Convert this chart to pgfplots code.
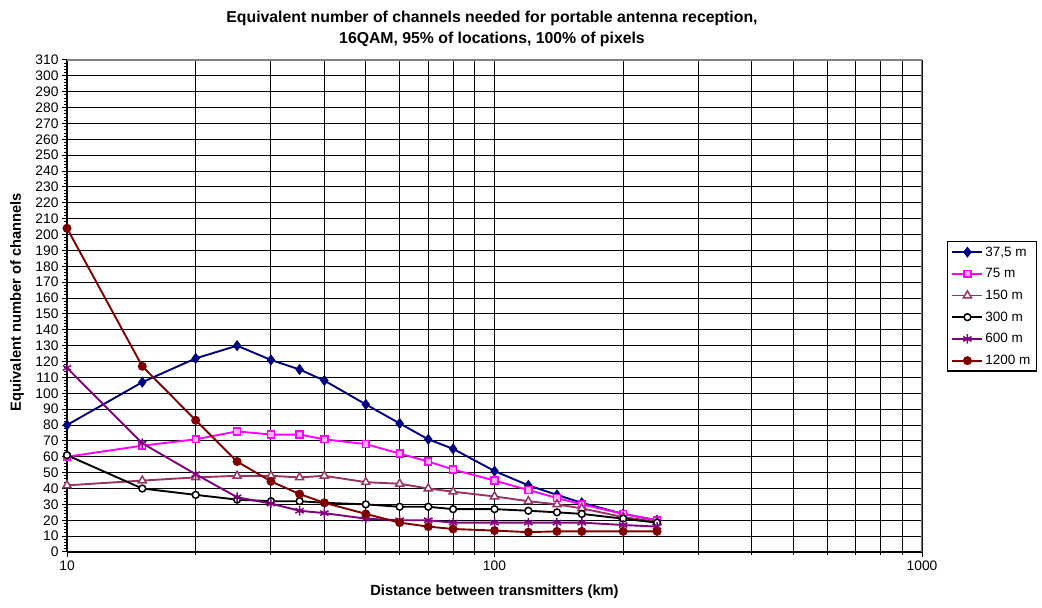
\documentclass[border=0pt]{standalone}
\usepackage{fontspec}
\setmainfont{Liberation Sans}
\usepackage{pgfplots}
\pgfplotsset{compat=1.18}

\definecolor{navyline}{RGB}{0,0,128}
\definecolor{magline}{RGB}{255,0,255}
\definecolor{mauveline}{RGB}{153,51,102}
\definecolor{purpleline}{RGB}{128,0,128}
\definecolor{darkredline}{RGB}{128,0,0}

\begin{document}
\begin{tikzpicture}[x=1pt,y=1pt]
\useasboundingbox (0,0) rectangle (1042,608);
\node[font=\bfseries\fontsize{15.8}{21}\selectfont, align=center] at (492,579.5)
  {Equivalent number of channels needed for portable antenna reception,\\16QAM, 95\% of locations, 100\% of pixels};
\node[font=\bfseries\fontsize{14.7}{17}\selectfont] at (494.5,16) {Distance between transmitters (km)};
\node[font=\bfseries\fontsize{14.7}{17}\selectfont, rotate=90] at (17,306) {Equivalent number of channels};
\begin{axis}[
  at={(67pt,56pt)}, anchor=south west,
  scale only axis, width=855pt, height=492pt,
  xmode=log, xmin=10, xmax=1000, ymin=0, ymax=310,
  axis x line*=bottom, axis y line*=left,
  axis line style={black, line width=1.3pt},
  xtick={10,100,1000}, xticklabels={10,100,1000},
  ytick={0,10,...,310}, minor y tick num=4,
  xmajorgrids=true, xminorgrids=true, ymajorgrids=true, yminorgrids=false,
  major grid style={black, line width=1pt},
  minor grid style={black, line width=1pt},
  tick align=outside, major tick length=5pt, minor tick length=3pt,
  tick style={black, line width=1pt},
  /pgf/number format/assume math mode=true,
  tick label style={font=\fontsize{13.8}{16}\selectfont},
  legend style={at={(axis description cs:1.029,0.632)}, anchor=north west,
    draw=black, line width=1.3pt, font=\fontsize{13.5}{16}\selectfont,
    row sep=6.8pt, inner xsep=4pt, inner ysep=3pt, cells={anchor=west}},
  legend image code/.code={\draw[mark repeat=2, mark phase=2]
    plot coordinates {(0pt,0pt) (15pt,0pt) (30pt,0pt)};},
  every axis plot/.append style={line width=1.9pt},
]
% 37,5 m
\addplot[navyline, mark=diamond*, mark size=4.8pt, mark options={fill=navyline, line width=1pt}] coordinates {
 (10,80) (15,107) (20,122) (25,130) (30,121) (35,115) (40,108) (50,93) (60,81)
 (70,71) (80,65) (100,51) (120,42) (140,36) (160,31) (200,24) (240,20)};
\addlegendentry{37,5 m}
% 75 m
\addplot[magline, mark=square*, mark size=3.4pt, mark options={fill=magline!30, line width=1.5pt}] coordinates {
 (10,60) (15,67) (20,71) (25,76) (30,74) (35,74) (40,71) (50,68) (60,62)
 (70,57) (80,52) (100,45) (120,39) (140,34) (160,30) (200,24) (240,20)};
\addlegendentry{75 m}
% 150 m
\addplot[mauveline, mark=triangle*, mark size=4.6pt, mark options={fill=white, line width=1.5pt}] coordinates {
 (10,42) (15,45) (20,47) (25,48) (30,48) (35,47) (40,48) (50,44) (60,43)
 (70,40) (80,38) (100,35) (120,32) (140,30) (160,27.5) (200,22) (240,19)};
\addlegendentry{150 m}
% 300 m
\addplot[black, mark=*, mark size=3.4pt, mark options={fill=white, line width=1.5pt}] coordinates {
 (10,61) (15,40) (20,36) (25,33) (30,32) (35,32) (40,31) (50,30) (60,28.5)
 (70,28.5) (80,27) (100,27) (120,26) (140,25) (160,24) (200,21) (240,18.5)};
\addlegendentry{300 m}
% 600 m
\addplot[purpleline, mark=asterisk, mark size=4.8pt, mark options={line width=1.5pt}] coordinates {
 (10,116) (15,68.5) (20,49) (25,34.5) (30,30.5) (35,26) (40,24.5) (50,21) (60,20)
 (70,20) (80,18.5) (100,18.5) (120,18.5) (140,18.5) (160,18.5) (200,17) (240,16)};
\addlegendentry{600 m}
% 1200 m
\addplot[darkredline, mark=*, mark size=3.5pt, mark options={fill=darkredline}] coordinates {
 (10,204) (15,117) (20,83) (25,57) (30,44.5) (35,36.5) (40,31) (50,24) (60,18.5)
 (70,16) (80,14.5) (100,13.5) (120,12.5) (140,13) (160,13) (200,13) (240,13)};
\addlegendentry{1200 m}
% plot-area border on the top and right sides
\draw[gray, line width=1.8pt] (rel axis cs:0,1) -- (rel axis cs:1,1) -- (rel axis cs:1,0);
\end{axis}
\end{tikzpicture}
\end{document}
